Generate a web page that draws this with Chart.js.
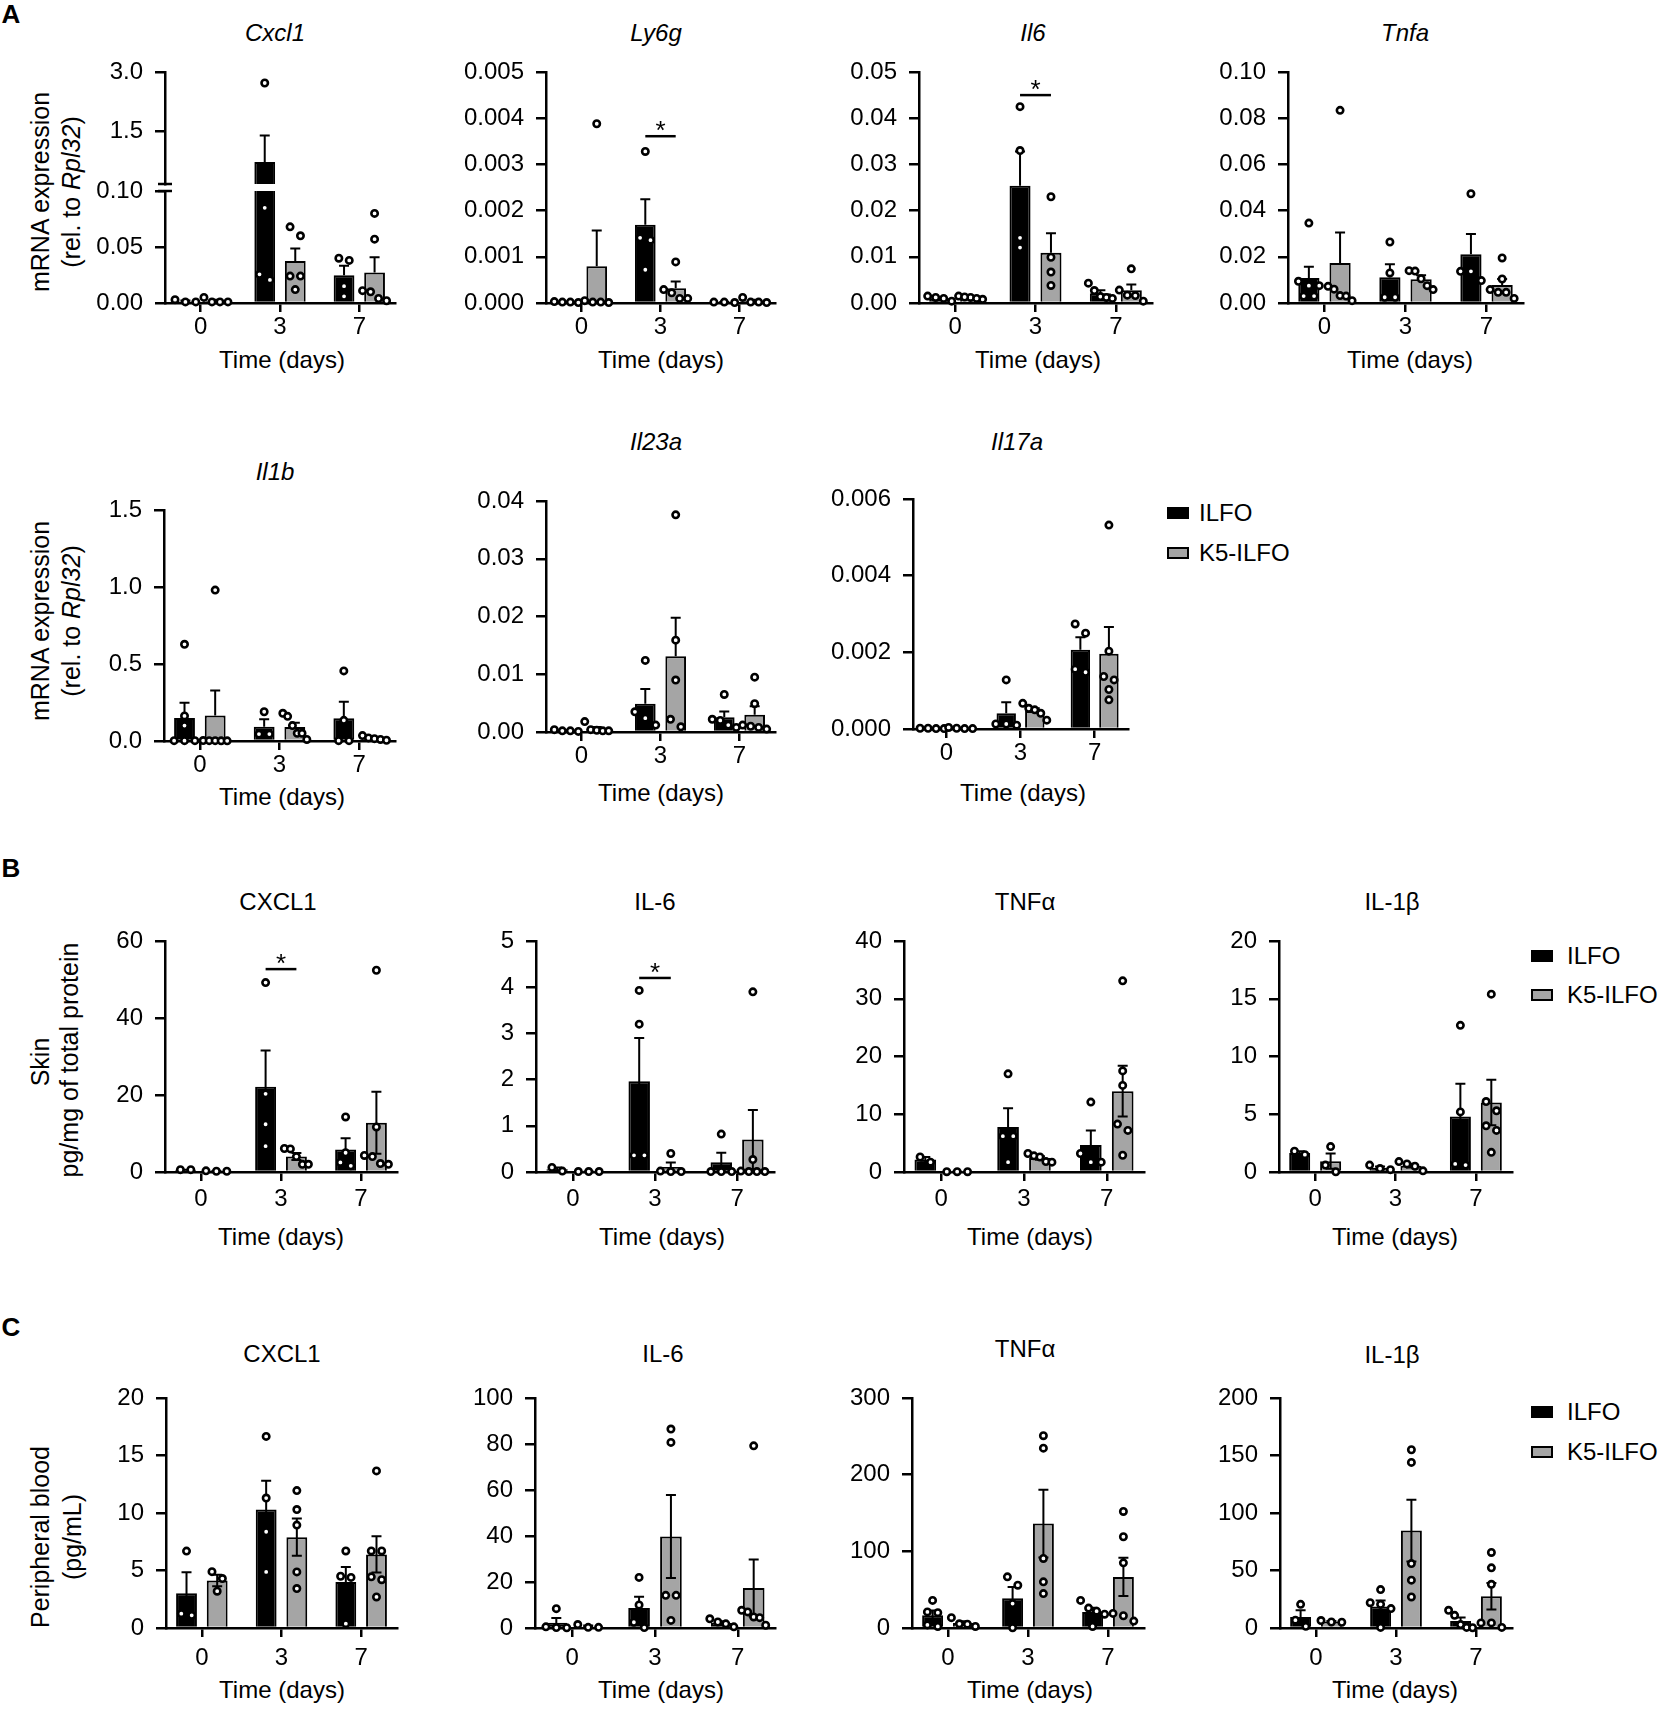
<!DOCTYPE html>
<html>
<head>
<meta charset="utf-8">
<title>ILFO vs K5-ILFO cytokines</title>
<script src="https://cdn.jsdelivr.net/npm/chart.js@4.4.1/dist/chart.umd.min.js"></script>
<style>
  html, body { margin: 0; padding: 0; background: #fff; }
  #fig { position: relative; width: 1669px; height: 1713px; overflow: hidden;
         font-family: "Liberation Sans", Arial, sans-serif; color: #000; }
  #fig canvas { position: absolute; }
  .t { position: absolute; transform: translate(-50%, -50%); white-space: nowrap; font-size: 24px; line-height: 1; }
  .i { font-style: italic; }
  .yl { position: absolute; transform: translate(-50%, -50%) rotate(-90deg); white-space: nowrap; font-size: 25px; line-height: 1; }
  .letter { position: absolute; transform: translate(-50%, -50%); font-weight: bold; font-size: 26px; line-height: 1; }
  .leg { position: absolute; transform: translateY(-50%); font-size: 24px; line-height: 1; white-space: nowrap; }
  .sw { position: absolute; box-sizing: border-box; width: 22px; height: 12px; border: 2px solid #000; transform: translateY(-50%); }
</style>
</head>
<body>
<div id="fig">
  <div class="letter" style="left:11px;top:14px">A</div>
  <div class="letter" style="left:11px;top:868px">B</div>
  <div class="letter" style="left:11px;top:1327px">C</div>

  <!-- A, first row -->
  <div class="t i" style="left:275px;top:33px">Cxcl1</div>
  <div class="t i" style="left:656px;top:33px">Ly6g</div>
  <div class="t i" style="left:1033px;top:33px">Il6</div>
  <div class="t i" style="left:1405px;top:33px">Tnfa</div>
  <div class="t" style="left:282px;top:360px">Time (days)</div>
  <div class="t" style="left:661px;top:360px">Time (days)</div>
  <div class="t" style="left:1038px;top:360px">Time (days)</div>
  <div class="t" style="left:1410px;top:360px">Time (days)</div>
  <div class="yl" style="left:40px;top:192px">mRNA expression</div>
  <div class="yl" style="left:71px;top:192px">(rel. to <i>Rpl32</i>)</div>

  <!-- A, second row -->
  <div class="t i" style="left:275px;top:472px">Il1b</div>
  <div class="t i" style="left:656px;top:442px">Il23a</div>
  <div class="t i" style="left:1017px;top:442px">Il17a</div>
  <div class="t" style="left:282px;top:797px">Time (days)</div>
  <div class="t" style="left:661px;top:793px">Time (days)</div>
  <div class="t" style="left:1023px;top:793px">Time (days)</div>
  <div class="yl" style="left:40px;top:621px">mRNA expression</div>
  <div class="yl" style="left:71px;top:621px">(rel. to <i>Rpl32</i>)</div>
  <div class="sw" style="left:1167px;top:513px;background:#000"></div>
  <div class="leg" style="left:1199px;top:513px">ILFO</div>
  <div class="sw" style="left:1167px;top:553px;background:#a5a5a5"></div>
  <div class="leg" style="left:1199px;top:553px">K5-ILFO</div>

  <!-- B -->
  <div class="t" style="left:278px;top:902px">CXCL1</div>
  <div class="t" style="left:655px;top:902px">IL-6</div>
  <div class="t" style="left:1025px;top:902px">TNFα</div>
  <div class="t" style="left:1392px;top:902px">IL-1β</div>
  <div class="t" style="left:281px;top:1237px">Time (days)</div>
  <div class="t" style="left:662px;top:1237px">Time (days)</div>
  <div class="t" style="left:1030px;top:1237px">Time (days)</div>
  <div class="t" style="left:1395px;top:1237px">Time (days)</div>
  <div class="yl" style="left:40px;top:1062px">Skin</div>
  <div class="yl" style="left:69px;top:1060px">pg/mg of total protein</div>
  <div class="sw" style="left:1531px;top:956px;background:#000"></div>
  <div class="leg" style="left:1567px;top:956px">ILFO</div>
  <div class="sw" style="left:1531px;top:995px;background:#a5a5a5"></div>
  <div class="leg" style="left:1567px;top:995px">K5-ILFO</div>

  <!-- C -->
  <div class="t" style="left:282px;top:1354px">CXCL1</div>
  <div class="t" style="left:663px;top:1354px">IL-6</div>
  <div class="t" style="left:1025px;top:1349px">TNFα</div>
  <div class="t" style="left:1392px;top:1355px">IL-1β</div>
  <div class="t" style="left:282px;top:1690px">Time (days)</div>
  <div class="t" style="left:661px;top:1690px">Time (days)</div>
  <div class="t" style="left:1030px;top:1690px">Time (days)</div>
  <div class="t" style="left:1395px;top:1690px">Time (days)</div>
  <div class="yl" style="left:40px;top:1537px">Peripheral blood</div>
  <div class="yl" style="left:72px;top:1537px">(pg/mL)</div>
  <div class="sw" style="left:1531px;top:1412px;background:#000"></div>
  <div class="leg" style="left:1567px;top:1412px">ILFO</div>
  <div class="sw" style="left:1531px;top:1452px;background:#a5a5a5"></div>
  <div class="leg" style="left:1567px;top:1452px">K5-ILFO</div>
</div>

<script>
// time points
const days = ['0', '3', '7'];

// A - mRNA, one array per day (0, 3, 7), individual mice
const cxcl1Ilfo = [[0.003, 0.001, 0.001], [2.72, 0.085, 0.0256, 0.0206], [0.038, 0.040, 0.015, 0.006]];
const cxcl1K5 = [[0.005, 0.001, 0.001, 0.001], [0.068, 0.060, 0.024, 0.024, 0.012], [0.080, 0.057, 0.010, 0.011, 0.002, 0.004]];
const ly6gIlfo = [[0.00002, 0.00003, 0.00001, 0.00002], [0.00328, 0.00141, 0.00136, 0.00072], [0.00002, 0.00001, 0.00002]];
const ly6gK5 = [[0.00388, 0.00002, 0.00005, 0.00001, 0.00002], [0.00089, 0.00029, 0.00022, 0.0001, 0.0001], [0.00012, 0.00002, 0.00001, 0.00002]];
const il6Ilfo = [[0.0012, 0.0015, 0.0010, 0.0004], [0.0425, 0.033, 0.0141, 0.012], [0.0043, 0.0027, 0.0014, 0.0012, 0.0010]];
const il6K5 = [[0.0012, 0.0015, 0.0013, 0.0008, 0.0010], [0.023, 0.0099, 0.0067, 0.0038], [0.0074, 0.0028, 0.0017, 0.0016, 0.0004]];
const tnfaIlfo = [[0.0346, 0.0094, 0.0075, 0.0075, 0.003, 0.003], [0.0264, 0.013, 0.0025, 0.0025], [0.0473, 0.0137, 0.0137, 0.0097]];
const tnfaK5 = [[0.0834, 0.0072, 0.0060, 0.0032, 0.0030, 0.0010], [0.0140, 0.0138, 0.0105, 0.0075, 0.0058], [0.0195, 0.0104, 0.0058, 0.0046, 0.0046, 0.002]];
const il1bIlfo = [[0.628, 0.163, 0.10, 0.002, 0.002, 0.002], [0.19, 0.045, 0.045], [0.455, 0.134, 0.002, 0.002]];
const il1bK5 = [[0.98, 0.003, 0.002, 0.002, 0.001, 0.001], [0.18, 0.16, 0.10, 0.05, 0.05, 0.01], [0.035, 0.02, 0.015, 0.01, 0.005]];
const il23aIlfo = [[0.0004, 0.0002, 0.0002, 0.0001], [0.0124, 0.0035, 0.0024, 0.0012], [0.0065, 0.0022, 0.002, 0.0012, 0.0008]];
const il23aK5 = [[0.0018, 0.0004, 0.0003, 0.0002, 0.0002], [0.0376, 0.0159, 0.009, 0.0022, 0.0009], [0.0095, 0.0049, 0.0012, 0.001, 0.0008, 0.0005]];
const il17aIlfo = [[0.00002, 0.00001, 0.00001, 0.00002], [0.00128, 0.00013, 0.00013, 0.0001], [0.00274, 0.0025, 0.00148, 0.00156]];
const il17aK5 = [[0.00004, 0.00002, 0.00001, 0.00001], [0.00067, 0.00054, 0.0005, 0.00041, 0.00023], [0.00532, 0.00203, 0.00128, 0.00137, 0.00103, 0.00076]];

// B - skin protein (pg/mg)
const skCxcl1Ilfo = [[0.6, 0.6], [49.2, 20.3, 12.4, 6.7], [14.3, 5.0, 2.5, 1.6]];
const skCxcl1K5 = [[0.3, 0.2, 0.2], [6.1, 6.0, 4.0, 2.0, 2.0], [52.4, 11.7, 4.3, 4.0, 2.2, 2.0]];
const skIl6Ilfo = [[0.1, 0.02], [3.93, 3.2, 0.36, 0.36], [0.82, 0.01, 0.01, 0.01]];
const skIl6K5 = [[0.01, 0.01, 0.01], [0.4, 0.02, 0.01, 0.01], [3.9, 0.27, 0.02, 0.01, 0.01, 0.01]];
const skTnfIlfo = [[1.7, 2.6], [17.0, 6.2, 6.2, 1.7], [12.1, 3.2, 1.7, 1.7]];
const skTnfK5 = [[0.05, 0.05, 0.05], [3.2, 2.8, 2.6, 1.8, 1.7], [33.1, 17.5, 15.0, 8.3, 7.2, 2.9]];
const skIl1bIlfo = [[1.5, 1.8], [0.6, 0.3, 0.2], [12.7, 5.2, 0.6, 0.7]];
const skIl1bK5 = [[2.2, 0.6, 0.02], [0.9, 0.7, 0.5, 0.1], [15.4, 6.1, 5.3, 4.0, 3.6, 1.7]];

// C - peripheral blood (pg/mL)
const blCxcl1Ilfo = [[6.69, 1.1, 1.25], [16.66, 11.3, 8.37, 4.88], [6.7, 4.5, 4.4, 0.38]];
const blCxcl1K5 = [[4.9, 4.3, 3.2], [11.95, 10.3, 8.95, 4.88, 3.43], [13.66, 6.7, 6.7, 4.45, 4.2, 2.7]];
const blIl6Ilfo = [[8.4, 0.5, 0.2, 0.1], [22, 10, 2.5, 0.2], [4.0, 2.6, 1.8, 0.5]];
const blIl6K5 = [[0.3, 1.5, 0.3], [86.5, 80.7, 14.2, 14.2, 3.3], [79.2, 7.0, 7.7, 4.8, 4.5, 1.2]];
const blTnfIlfo = [[36, 21, 20, 4, 2], [66.7, 55.8, 31.8, 0.3], [36, 26, 22, 18, 2]];
const blTnfK5 = [[13.5, 5.5, 5, 2], [250.8, 234.6, 90.7, 60.2, 44.9], [152, 119, 85, 19, 16, 9]];
const blIl1bIlfo = [[20.6, 6.8, 1.5], [33.4, 22, 20.6, 16.9, 0.5], [15.4, 11, 3, 0.5, 0.2]];
const blIl1bK5 = [[5.2, 6.5, 5.0], [155, 144, 56, 41.6, 27], [65.7, 52.3, 38, 4.4, 4.4, 0.5]];

// tick labels
const cxcl1TicksHi = ['1.5', '3.0'];
const cxcl1TicksLo = ['0.00', '0.05', '0.10'];
const ly6gTicks = ['0.000', '0.001', '0.002', '0.003', '0.004', '0.005'];
const il6Ticks = ['0.00', '0.01', '0.02', '0.03', '0.04', '0.05'];
const tnfaTicks = ['0.00', '0.02', '0.04', '0.06', '0.08', '0.10'];
const il1bTicks = ['0.0', '0.5', '1.0', '1.5'];
const il23aTicks = ['0.00', '0.01', '0.02', '0.03', '0.04'];
const il17aTicks = ['0.000', '0.002', '0.004', '0.006'];
const skCxcl1Ticks = ['0', '20', '40', '60'];
const skIl6Ticks = ['0', '1', '2', '3', '4', '5'];
const skTnfTicks = ['0', '10', '20', '30', '40'];
const skIl1bTicks = ['0', '5', '10', '15', '20'];
const blCxcl1Ticks = ['0', '5', '10', '15', '20'];
const blIl6Ticks = ['0', '20', '40', '60', '80', '100'];
const blTnfTicks = ['0', '100', '200', '300'];
const blIl1bTicks = ['0', '50', '100', '150', '200'];

const GRAY = '#a5a5a5';
const FONT = '"Liberation Sans", Arial, sans-serif';
Chart.defaults.font.family = FONT;
Chart.defaults.color = '#000';

const mean = a => a.reduce((s, v) => s + v, 0) / a.length;
const sem = a => {
  if (a.length < 2) return 0;
  const m = mean(a);
  const ss = a.reduce((s, v) => s + (v - m) * (v - m), 0);
  return Math.sqrt(ss / (a.length - 1)) / Math.sqrt(a.length);
};

// spread points that sit at nearly the same height side by side
function spread(ys, cx, r) {
  const order = ys.map((v, i) => i).sort((a, b) => ys[a] - ys[b]);
  const xs = new Array(ys.length);
  let group = [];
  const flush = () => {
    const k = group.length;
    const step = k > 1 ? Math.min(2 * r + 2, 24 / (k - 1)) : 0;
    group.forEach((idx, j) => { xs[idx] = cx + (j - (k - 1) / 2) * step; });
    group = [];
  };
  order.forEach(idx => {
    if (group.length && ys[idx] - ys[group[group.length - 1]] >= 2 * r + 1) flush();
    group.push(idx);
  });
  flush();
  return xs;
}

// error bars (SEM), individual points, significance bar, axis break
const marks = {
  id: 'marks',
  afterDatasetsDraw(chart, args, o) {
    const ctx = chart.ctx, a = chart.chartArea, y = chart.scales.y;
    chart.data.datasets.forEach((ds, di) => {
      chart.getDatasetMeta(di).data.forEach((bar, i) => {
        const vals = ds.raw[i], m = mean(vals), e = sem(vals), x = bar.x;
        ctx.save();
        ctx.beginPath();
        ctx.rect(0, a.top - 1, chart.width, a.bottom - a.top + 1);
        ctx.clip();
        ctx.strokeStyle = '#000';
        ctx.lineWidth = 2;
        const yt = y.getPixelForValue(m + e);
        const lowV = o.both ? Math.max(m - e, y.min) : Math.max(m, y.min);
        const yb = y.getPixelForValue(lowV);
        ctx.beginPath();
        ctx.moveTo(x, yb); ctx.lineTo(x, yt);
        ctx.moveTo(x - 5, yt); ctx.lineTo(x + 5, yt);
        if (o.both && m - e > y.min) { ctx.moveTo(x - 5, yb); ctx.lineTo(x + 5, yb); }
        ctx.stroke();
        ctx.restore();

        const shown = vals.filter(v => v >= y.min && v <= y.max);
        const py = shown.map(v => y.getPixelForValue(v));
        const px = spread(py, x, 4.2);
        ctx.save();
        ctx.lineWidth = 2.6;
        ctx.strokeStyle = '#000';
        ctx.fillStyle = '#fff';
        py.forEach((yy, k) => {
          ctx.beginPath();
          ctx.arc(px[k], yy, 3.2, 0, Math.PI * 2);
          ctx.fill();
          ctx.stroke();
        });
        ctx.restore();
      });
    });

    if (o.sig) {
      const b0 = chart.getDatasetMeta(0).data[o.sig.i], b1 = chart.getDatasetMeta(1).data[o.sig.i];
      const ly = y.getPixelForValue(o.sig.v);
      ctx.save();
      ctx.strokeStyle = '#000';
      ctx.lineWidth = 2.5;
      ctx.beginPath(); ctx.moveTo(b0.x, ly); ctx.lineTo(b1.x, ly); ctx.stroke();
      ctx.fillStyle = '#000';
      ctx.font = '26px ' + FONT;
      ctx.textAlign = 'center';
      ctx.textBaseline = 'alphabetic';
      ctx.fillText('*', (b0.x + b1.x) / 2, ly + 3);
      ctx.restore();
    }

    if (o.brk) {
      const yy = o.brk === 'bottom' ? a.bottom : a.top;
      ctx.save();
      ctx.strokeStyle = '#000';
      ctx.lineWidth = 2.5;
      ctx.beginPath(); ctx.moveTo(a.left - 7, yy); ctx.lineTo(a.left + 7, yy); ctx.stroke();
      ctx.restore();
    }
  }
};

const fig = document.getElementById('fig');

function makePanel(p) {
  const [l, r, t, b] = p.box;
  const YW = 110, PT = 22, PR = 12;
  const XH = p.noX ? 0 : 42, PB = p.noX ? 4 : 0;
  const w = r - l + YW + PR, h = b - t + PT + XH + PB;
  const cv = document.createElement('canvas');
  cv.width = w; cv.height = h;
  cv.style.left = (l - YW) + 'px';
  cv.style.top = (t - PT) + 'px';
  cv.style.width = w + 'px';
  cv.style.height = h + 'px';
  fig.appendChild(cv);

  const tickVals = p.ticks.map(Number);
  const lo = p.range ? p.range[0] : tickVals[0];
  const hi = p.range ? p.range[1] : tickVals[tickVals.length - 1];
  const line = { color: '#000', width: 2.5 };

  new Chart(cv, {
    type: 'bar',
    data: {
      labels: days,
      datasets: [
        { label: 'ILFO', data: p.ilfo.map(mean), raw: p.ilfo, backgroundColor: '#000', borderColor: '#000',
          borderWidth: 2, categoryPercentage: 0.77, barPercentage: 0.68 },
        { label: 'K5-ILFO', data: p.k5.map(mean), raw: p.k5, backgroundColor: GRAY, borderColor: '#000',
          borderWidth: 2, categoryPercentage: 0.77, barPercentage: 0.68 }
      ]
    },
    options: {
      responsive: false,
      animation: false,
      layout: { padding: { top: PT, right: PR, bottom: PB, left: 0 } },
      plugins: {
        legend: { display: false },
        tooltip: { enabled: false },
        marks: { sig: p.sig, brk: p.brk, both: !!p.both }
      },
      scales: {
        x: {
          display: !p.noX,
          offset: true,
          grid: { offset: false, drawOnChartArea: false, color: '#000', lineWidth: 2.5, tickLength: 9 },
          border: line,
          ticks: { color: '#000', font: { size: 24 }, padding: p.xpad, maxRotation: 0 },
          // slightly smaller margins at both ends than the default half category
          afterBuildTicks: s => { s._startValue = -0.45; s._valueRange = 2.9; },
          afterFit: s => { s.height = XH; }
        },
        y: {
          min: lo,
          max: hi,
          grid: { drawOnChartArea: false, color: '#000', lineWidth: 2.5, tickLength: 10 },
          border: line,
          ticks: { color: '#000', font: { size: 24 }, padding: 12, callback: (v, i) => p.ticks[i] },
          afterBuildTicks: s => { s.ticks = tickVals.map(v => ({ value: v })); },
          afterFit: s => {
            s.width = YW;
            s.paddingTop = 0;
            if (p.noX) s.paddingBottom = 0;
          }
        }
      }
    },
    plugins: [marks]
  });
}

const panels = [
  // A, first row (Cxcl1 has a broken axis: two stacked segments)
  { box: [165, 395, 72, 184], ilfo: cxcl1Ilfo, k5: cxcl1K5, ticks: cxcl1TicksHi, range: [0.15, 3.0], noX: true, brk: 'bottom' },
  { box: [165, 395, 191, 303], ilfo: cxcl1Ilfo, k5: cxcl1K5, ticks: cxcl1TicksLo, brk: 'top', xpad: 1 },
  { box: [546, 775, 72, 303], ilfo: ly6gIlfo, k5: ly6gK5, ticks: ly6gTicks, sig: { i: 1, v: 0.00361 }, xpad: 1 },
  { box: [919, 1152, 72, 303], ilfo: il6Ilfo, k5: il6K5, ticks: il6Ticks, sig: { i: 1, v: 0.045 }, xpad: 1 },
  { box: [1288, 1523, 72, 303], ilfo: tnfaIlfo, k5: tnfaK5, ticks: tnfaTicks, xpad: 1 },
  // A, second row
  { box: [164, 395, 510, 741], ilfo: il1bIlfo, k5: il1bK5, ticks: il1bTicks, xpad: 1 },
  { box: [546, 775, 501, 732], ilfo: il23aIlfo, k5: il23aK5, ticks: il23aTicks, xpad: 1 },
  { box: [913, 1128, 499, 729], ilfo: il17aIlfo, k5: il17aK5, ticks: il17aTicks, xpad: 1 },
  // B
  { box: [165, 397, 941, 1172], ilfo: skCxcl1Ilfo, k5: skCxcl1K5, ticks: skCxcl1Ticks, sig: { i: 1, v: 52.7 }, xpad: 4, both: true },
  { box: [536, 774, 941, 1172], ilfo: skIl6Ilfo, k5: skIl6K5, ticks: skIl6Ticks, sig: { i: 1, v: 4.2 }, xpad: 4, both: true },
  { box: [904, 1144, 941, 1172], ilfo: skTnfIlfo, k5: skTnfK5, ticks: skTnfTicks, xpad: 4, both: true },
  { box: [1279, 1512, 941, 1172], ilfo: skIl1bIlfo, k5: skIl1bK5, ticks: skIl1bTicks, xpad: 4, both: true },
  // C
  { box: [166, 397, 1398, 1628], ilfo: blCxcl1Ilfo, k5: blCxcl1K5, ticks: blCxcl1Ticks, xpad: 7, both: true },
  { box: [535, 775, 1398, 1628], ilfo: blIl6Ilfo, k5: blIl6K5, ticks: blIl6Ticks, xpad: 7, both: true },
  { box: [912, 1144, 1398, 1628], ilfo: blTnfIlfo, k5: blTnfK5, ticks: blTnfTicks, xpad: 7, both: true },
  { box: [1280, 1512, 1398, 1628], ilfo: blIl1bIlfo, k5: blIl1bK5, ticks: blIl1bTicks, xpad: 7, both: true }
];

panels.forEach(makePanel);
</script>
</body>
</html>
